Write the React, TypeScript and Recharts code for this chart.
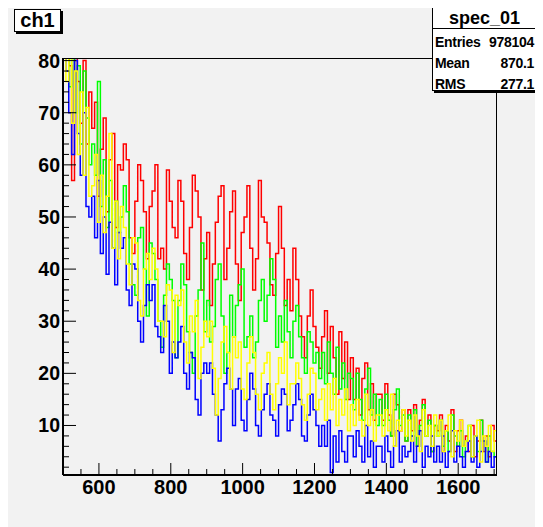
import React from 'react';
import { LineChart, Line, XAxis, YAxis } from 'recharts';

const binStart = 500;
const binWidth = 8;

const red = [
  88, 84, 79, 57, 82, 76, 68, 80, 64, 74,
  67, 72, 54, 63, 69, 51, 61, 66, 48, 60,
  59, 64, 61, 46, 43, 53, 60, 57, 51, 42,
  52, 55, 60, 42, 44, 40, 59, 53, 48, 46,
  57, 53, 43, 38, 48, 58, 55, 50, 36, 42,
  47, 33, 41, 49, 54, 56, 38, 44, 51, 55,
  41, 34, 47, 50, 56, 44, 36, 42, 57, 50,
  49, 45, 37, 35, 43, 52, 44, 33, 38, 32,
  44, 38, 31, 27, 23, 31, 36, 29, 25, 21,
  27, 32, 20, 29, 23, 16, 28, 19, 26, 15,
  23, 15, 21, 12, 19, 22, 13, 18, 11, 16,
  16, 11, 18, 12, 8, 16, 14, 9, 13, 7,
  13, 9, 14, 6, 11, 15, 8, 12, 5, 10,
  9, 12, 5, 10, 7, 13, 5, 9, 11, 6,
  8, 5, 10, 4, 7, 11, 5, 8, 4, 10, 7,
];

const green = [
  86, 82, 75, 83, 70, 79, 64, 78, 69, 60,
  64, 58, 76, 52, 61, 48, 57, 44, 53, 47,
  50, 56, 51, 41, 37, 35, 46, 48, 40, 31,
  45, 43, 38, 30, 25, 35, 41, 38, 34, 23,
  34, 41, 37, 28, 24, 20, 31, 36, 45, 28,
  34, 26, 29, 38, 41, 31, 20, 24, 35, 27,
  33, 37, 40, 25, 27, 31, 23, 26, 34, 38,
  30, 35, 42, 38, 25, 31, 26, 34, 28, 23,
  30, 33, 27, 23, 20, 28, 26, 22, 24, 19,
  24, 18, 26, 20, 16, 25, 17, 22, 15, 20,
  19, 13, 20, 15, 11, 17, 21, 12, 16, 10,
  15, 10, 16, 11, 8, 13, 17, 10, 12, 7,
  12, 8, 13, 6, 10, 14, 8, 11, 5, 10,
  8, 11, 6, 9, 5, 12, 8, 6, 9, 4,
  7, 10, 4, 8, 5, 11, 7, 3, 8, 5, 4,
];

const blue = [
  84, 78, 70, 62, 80, 66, 58, 70, 52, 50,
  54, 46, 57, 43, 50, 39, 49, 44, 37, 47,
  44, 46, 36, 33, 41, 40, 30, 26, 33, 37,
  34, 37, 29, 27, 24, 33, 30, 20, 26, 23,
  26, 29, 20, 17, 24, 23, 15, 12, 20, 22,
  20, 22, 16, 12, 7, 13, 18, 21, 17, 10,
  17, 19, 11, 9, 15, 20, 17, 10, 8, 13,
  16, 18, 12, 11, 8, 14, 17, 16, 9, 11,
  14, 18, 15, 8, 7, 12, 16, 13, 10, 6,
  10, 6, 11, 1, 8, 3, 9, 5, 3, 8,
  8, 4, 9, 6, 3, 10, 4, 7, 2, 6,
  6, 3, 8, 5, 2, 6, 9, 3, 6, 4,
  5, 8, 3, 6, 9, 2, 6, 4, 8, 3,
  6, 3, 8, 2, 5, 9, 3, 6, 4, 2,
  5, 7, 3, 8, 2, 5, 7, 3, 5, 2, 4,
];

const yellow = [
  82, 76, 85, 68, 78, 62, 74, 58, 71, 54,
  56, 62, 49, 58, 47, 54, 66, 44, 53, 42,
  52, 48, 41, 37, 46, 45, 34, 31, 40, 43,
  38, 44, 40, 30, 30, 27, 37, 36, 24, 35,
  33, 36, 26, 22, 31, 28, 34, 19, 25, 30,
  27, 30, 21, 12, 19, 26, 29, 24, 17, 27,
  23, 26, 17, 15, 22, 27, 24, 16, 13, 20,
  22, 24, 16, 13, 18, 23, 20, 26, 14, 18,
  18, 22, 19, 14, 11, 16, 21, 20, 13, 15,
  17, 11, 18, 13, 19, 10, 15, 12, 17, 9,
  14, 10, 15, 11, 8, 16, 10, 13, 7, 12,
  12, 8, 13, 9, 16, 6, 11, 9, 13, 8,
  11, 7, 12, 8, 5, 13, 8, 10, 6, 12,
  8, 11, 5, 9, 12, 4, 9, 7, 11, 6,
  7, 10, 4, 8, 11, 3, 8, 6, 10, 5, 9,
];

const xTicks = [550, 600, 650, 700, 750, 800, 850, 900, 950, 1000, 1050, 1100, 1150, 1200, 1250, 1300, 1350, 1400, 1450, 1500, 1550, 1600, 1650, 1700];
const xLabels = [600, 800, 1000, 1200, 1400, 1600];
const yTicks = [2, 4, 6, 8, 10, 12, 14, 16, 18, 20, 22, 24, 26, 28, 30, 32, 34, 36, 38, 40, 42, 44, 46, 48, 50, 52, 54, 56, 58, 60, 62, 64, 66, 68, 70, 72, 74, 76, 78, 80];
const yLabels = [10, 20, 30, 40, 50, 60, 70, 80];

const statsTitle = 'spec_01';
const statsRows = [
  ['Entries', '978104'],
  ['Mean', '870.1'],
  ['RMS', '277.1'],
];
const canvasTitle = 'ch1';

const data = red.map((_, i) => ({
  x: binStart + i * binWidth,
  red: red[i],
  green: green[i],
  blue: blue[i],
  yellow: yellow[i],
}));
data.push({
  x: binStart + red.length * binWidth,
  red: red[red.length - 1],
  green: green[green.length - 1],
  blue: blue[blue.length - 1],
  yellow: yellow[yellow.length - 1],
});

const FONT = '"Liberation Sans", Arial, Helvetica, sans-serif';

const XTick = (props: any) => {
  const { x, y, payload } = props;
  const major = xLabels.includes(payload.value);
  return (
    <g>
      <line x1={x} y1={y} x2={x} y2={y - (major ? 12 : 6)} stroke="#000" strokeWidth={1} />
      {major && (
        <text x={x} y={y + 19} textAnchor="middle" fontFamily={FONT} fontWeight="bold" fontSize={20} fill="#000">
          {payload.value}
        </text>
      )}
    </g>
  );
};

const YTick = (props: any) => {
  const { x, y, payload } = props;
  const major = yLabels.includes(payload.value);
  return (
    <g>
      <line x1={x} y1={y} x2={x + (major ? 13 : 6)} y2={y} stroke="#000" strokeWidth={1} />
      {major && (
        <text x={x - 3} y={y + 7} textAnchor="end" fontFamily={FONT} fontWeight="bold" fontSize={19.5} fill="#000">
          {payload.value}
        </text>
      )}
    </g>
  );
};

export default function App() {
  return (
    <div style={{ position: 'relative', width: 527, height: 519, background: '#f2f2f2', fontFamily: FONT }}>
      <LineChart width={527} height={519} data={data} margin={{ top: 50, right: 38, left: 0, bottom: 0 }}>
        <XAxis
          type="number"
          dataKey="x"
          domain={[500, 1708]}
          ticks={xTicks}
          interval={0}
          allowDataOverflow
          height={52}
          tickSize={0}
          tickMargin={0}
          tickLine={false}
          axisLine={{ stroke: '#000', strokeWidth: 2 }}
          tick={XTick}
        />
        <YAxis
          type="number"
          domain={[0.5, 80.5]}
          ticks={yTicks}
          interval={0}
          allowDataOverflow
          width={55}
          tickSize={0}
          tickMargin={0}
          tickLine={false}
          axisLine={{ stroke: '#000', strokeWidth: 2 }}
          tick={YTick}
        />
        <Line type="stepAfter" dataKey="red" stroke="#ff0000" strokeWidth={1.5} dot={false} isAnimationActive={false} />
        <Line type="stepAfter" dataKey="green" stroke="#00ff00" strokeWidth={1.5} dot={false} isAnimationActive={false} />
        <Line type="stepAfter" dataKey="blue" stroke="#0000ff" strokeWidth={1.5} dot={false} isAnimationActive={false} />
        <Line type="stepAfter" dataKey="yellow" stroke="#ffff00" strokeWidth={1.5} dot={false} isAnimationActive={false} />
      </LineChart>
      <div
        style={{
          position: 'absolute', left: 55, top: 50, width: 434, height: 417, boxSizing: 'border-box',
          borderTop: '1px solid #000', borderRight: '1px solid #000', pointerEvents: 'none',
        }}
      />
      <div
        style={{
          position: 'absolute', left: 6, top: 1, width: 47, height: 23, boxSizing: 'border-box',
          background: '#fff', border: '1px solid #000', boxShadow: '2px 2px 0 #000',
          fontWeight: 'bold', fontSize: 20, lineHeight: '21px', textAlign: 'center',
        }}
      >
        {canvasTitle}
      </div>
      <div
        style={{
          position: 'absolute', left: 424, top: -1, width: 105, height: 84, boxSizing: 'border-box',
          background: '#fff', border: '1px solid #000', boxShadow: '2px 2px 0 #000',
          fontWeight: 'bold',
        }}
      >
        <div style={{ height: 20, borderBottom: '1px solid #000', textAlign: 'center', fontSize: 18, lineHeight: '20px' }}>
          {statsTitle}
        </div>
        {statsRows.map((r, i) => (
          <div key={r[0]} style={{ position: 'absolute', left: 2, right: 2, top: 24 + i * 21, height: 20, fontSize: 14, lineHeight: '20px', letterSpacing: -0.3 }}>
            <span style={{ position: 'absolute', left: 0 }}>{r[0]}</span>
            <span style={{ position: 'absolute', right: 0 }}>{r[1]}</span>
          </div>
        ))}
      </div>
    </div>
  );
}
